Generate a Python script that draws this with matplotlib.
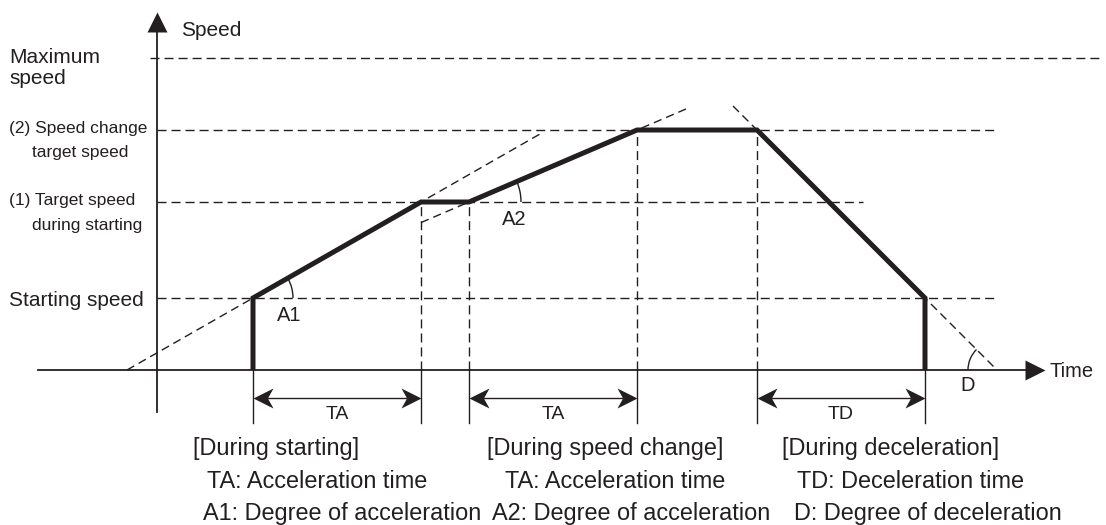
import numpy as np
import matplotlib
import matplotlib.pyplot as plt
from matplotlib import font_manager
from matplotlib.patches import Arc
from matplotlib.path import Path

matplotlib.use('Agg')
plt.rcParams['lines.scale_dashes'] = False

W, H, DPI = 1106, 525, 100
PX = 24.0            # pixels per unit, same on both axes
X0, Y0 = 157, 370    # origin (pixels from left / top)
INK = '#231f20'

# time marks: start, reach target, speed change start/end, decel start, stop
t_marks = [4, 11, 13, 20, 25, 32]
# speed levels: starting, target during starting, speed change target, maximum
speed_levels = [3, 7, 10, 13]
level_ends = [35, 29.4, 35, 39.3]
level_starts = [0, 0, 0, -0.3]

# thick speed profile
profile_t = [4, 4, 11, 13, 20, 25, 32, 32]
profile_v = [0, 3, 7, 7, 10, 10, 3, 0]

# dimension arrows (pairs of t_marks) and their labels
spans = [(4, 11), (13, 20), (25, 32)]
span_labels = ['TA', 'TA', 'TD']

names = {f.name for f in font_manager.fontManager.ttflist}
FONT = 'Liberation Sans'
if 'Liberation Sans Narrow' in names:
    NARROW, NARROW_SIZE = 'Liberation Sans Narrow', 15.5
else:
    NARROW, NARROW_SIZE = 'Liberation Sans', 12.5
plt.rcParams['font.family'] = [FONT, 'DejaVu Sans']

fig = plt.figure(figsize=(W / DPI, H / DPI), dpi=DPI)
ax = fig.add_axes([0, 0, 1, 1])
ax.set_xlim(-X0 / PX, (W - X0) / PX)
ax.set_ylim((Y0 - H) / PX, Y0 / PX)
ax.axis('off')

dash = dict(color=INK, lw=1.0, dashes=(6.5, 3.6))


def extend(p0, p1, t_from, t_to):
    slope = (p1[1] - p0[1]) / (p1[0] - p0[0])
    ts = np.array([t_from, t_to])
    return ts, p0[1] + slope * (ts - p0[0])


def ptext(x, y, s, **kw):
    kw.setdefault('fontsize', 15)
    kw.setdefault('va', 'baseline')
    kw.setdefault('color', INK)
    fig.text(x / W, 1 - y / H, s, **kw)


# horizontal speed levels
for v, a, b in zip(speed_levels, level_starts, level_ends):
    ax.plot([a, b], [v, v], **dash)

# vertical dashed guides
for t, v in zip(t_marks[1:5], [7, 7, 10, 10]):
    ax.plot([t, t], [0, v], **dash)

# slope extensions
ext_dash = dict(color=INK, lw=1.0, dashes=(6.0, 3.6))
ts, vs = extend((4, 3), (11, 7), 4 - 3 * 7 / 4, 16)
ax.plot(ts, vs, **ext_dash)
ts, vs = extend((13, 7), (20, 10), 11, 22.1)
ax.plot(ts, vs, **ext_dash)
ts, vs = extend((25, 10), (32, 3), 24, 35)
ax.plot(ts, vs, **ext_dash)

# axes
ax.plot([-4.96, 36.5], [0, 0], color=INK, lw=1.3)
ax.plot([0, 0], [-1.75, 14.5], color=INK, lw=1.3)

tri_r = Path([(0, 0), (-1, 0.5), (-1, -0.5), (0, 0)],
             [Path.MOVETO, Path.LINETO, Path.LINETO, Path.CLOSEPOLY])
tri_u = Path([(0, 0), (0.5, -1), (-0.5, -1), (0, 0)],
             [Path.MOVETO, Path.LINETO, Path.LINETO, Path.CLOSEPOLY])
stealth_r = Path([(0, 0), (-1, 0.5), (-0.72, 0), (-1, -0.5), (0, 0)],
                 [Path.MOVETO, Path.LINETO, Path.LINETO, Path.LINETO, Path.CLOSEPOLY])
stealth_l = Path([(0, 0), (1, 0.5), (0.72, 0), (1, -0.5), (0, 0)],
                 [Path.MOVETO, Path.LINETO, Path.LINETO, Path.LINETO, Path.CLOSEPOLY])

ax.plot([37], [0], marker=tri_r, ms=28.8, color=INK, mew=0)
ax.plot([0], [14.92], marker=tri_u, ms=28.8, color=INK, mew=0)

# ticks below the time axis
for t in t_marks:
    ax.plot([t, t], [0, -2.2], color=INK, lw=1.0)

# dimension arrows
arrow_v = -28 / PX
for (a, b), lab in zip(spans, span_labels):
    ax.plot([a + 0.3, b - 0.3], [arrow_v, arrow_v], color=INK, lw=1.0)
    ax.plot([a], [arrow_v], marker=stealth_l, ms=28.8, color=INK, mew=0)
    ax.plot([b], [arrow_v], marker=stealth_r, ms=28.8, color=INK, mew=0)
    ptext(X0 + (a + b) / 2 * PX, 419, lab, fontsize=14, ha='center')

# speed profile
ax.plot(profile_t, profile_v, color=INK, lw=3.6,
        solid_joinstyle='miter', solid_capstyle='butt')

# angle arcs
a1 = np.degrees(np.arctan2(7 - 3, 11 - 4))
a2 = np.degrees(np.arctan2(10 - 7, 20 - 13))
ax.add_patch(Arc((4, 3), 2 * 40 / PX, 2 * 40 / PX, theta1=0, theta2=a1, color=INK, lw=1.0))
ax.add_patch(Arc((13, 7), 2 * 52 / PX, 2 * 52 / PX, theta1=0, theta2=a2, color=INK, lw=1.0))
ax.add_patch(Arc((35, 0), 2 * 29 / PX, 2 * 29 / PX, theta1=135, theta2=180, color=INK, lw=1.0))

# labels
ptext(181, 36, 'Speed')
ptext(1050, 377, 'Time', fontsize=14.5)
ptext(9, 63, 'Maximum')
ptext(9, 84, 'speed')
ptext(9, 133, '(2) Speed change', family=NARROW, fontsize=NARROW_SIZE)
ptext(32, 157, 'target speed', family=NARROW, fontsize=NARROW_SIZE)
ptext(9, 205, '(1) Target speed', family=NARROW, fontsize=NARROW_SIZE)
ptext(32, 230, 'during starting', family=NARROW, fontsize=NARROW_SIZE)
ptext(9, 306, 'Starting speed')
ptext(277, 321, 'A1', fontsize=14.5)
ptext(502, 225, 'A2', fontsize=14.5)
ptext(960, 391, 'D', fontsize=14.5)

# explanation below
BS = 16.9
ptext(193, 455, '[During starting]', fontsize=BS)
ptext(207, 488, 'TA: Acceleration time', fontsize=BS)
ptext(203, 520, 'A1: Degree of acceleration', fontsize=BS)
ptext(487, 455, '[During speed change]', fontsize=BS)
ptext(505, 488, 'TA: Acceleration time', fontsize=BS)
ptext(492, 520, 'A2: Degree of acceleration', fontsize=BS)
ptext(782, 455, '[During deceleration]', fontsize=BS)
ptext(797, 488, 'TD: Deceleration time', fontsize=BS)
ptext(794, 520, 'D: Degree of deceleration', fontsize=BS)

fig.savefig('out.png', dpi=DPI)
